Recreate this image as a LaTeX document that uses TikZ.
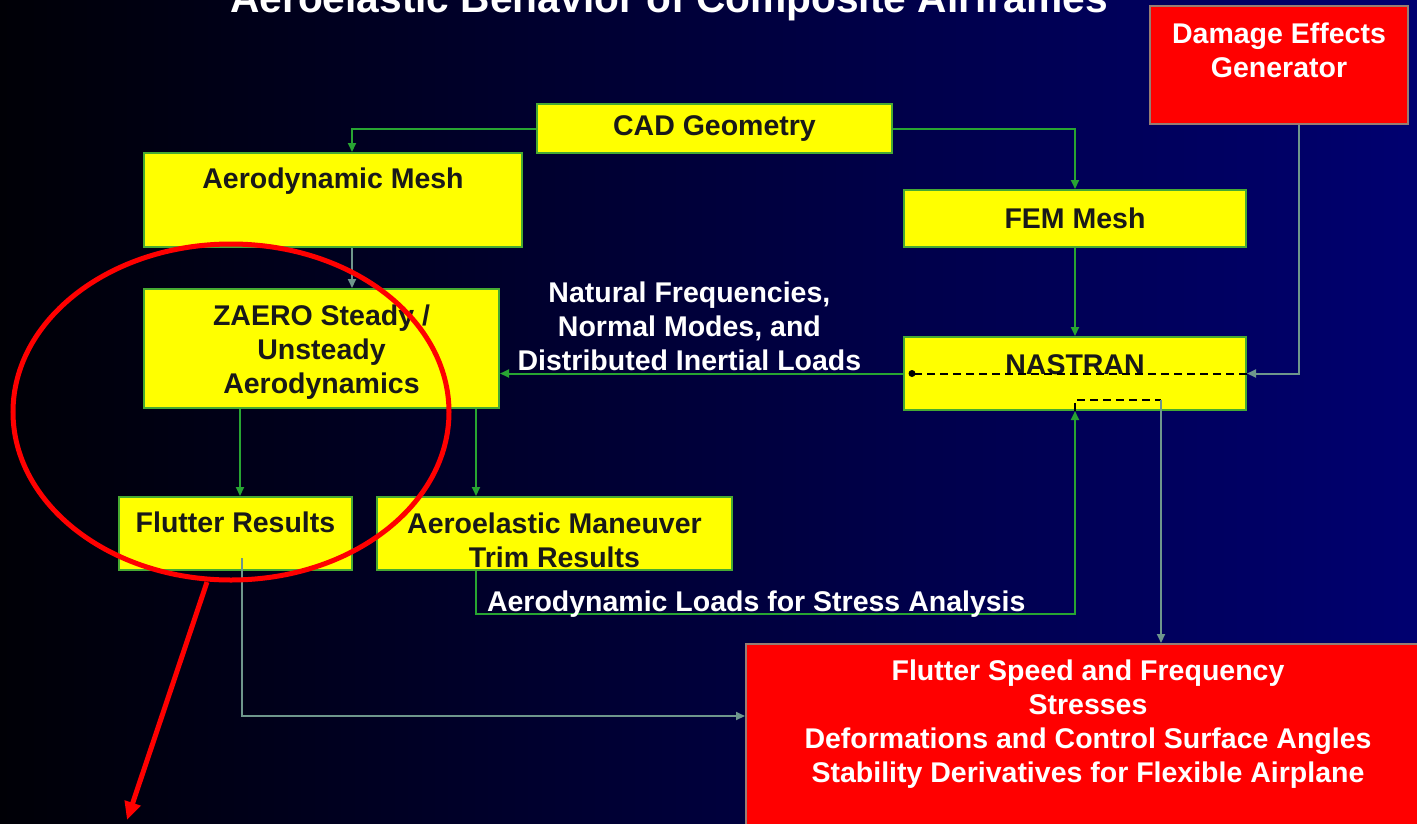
\documentclass[tikz,border=0pt]{standalone}
\usepackage{fontspec}
\setmainfont{Liberation Sans}
\usepackage{tikz}
\usetikzlibrary{positioning, arrows.meta}

\definecolor{boxyellow}{RGB}{255,255,0}
\definecolor{boxframe}{RGB}{70,170,50}
\definecolor{linkgreen}{RGB}{40,165,50}
\definecolor{linkgray}{RGB}{110,150,140}
\definecolor{boxred}{RGB}{255,0,0}
\definecolor{redframe}{RGB}{150,125,115}
\definecolor{bgleft}{RGB}{0,0,6}
\definecolor{bgright}{RGB}{0,0,112}

\begin{document}
\begin{tikzpicture}[x=1pt, y=-1pt,
		>={Triangle[length=9pt, width=8pt]},
		every node/.style={font=\fontsize{28.5}{34}\selectfont\bfseries},
		ybox/.style={
			rectangle,
			draw=boxframe, line width=2pt,
			fill=boxyellow,
			text=black!90,
			anchor=north west,
			inner sep=0pt,
			align=center},
		rbox/.style={
			rectangle,
			draw=redframe, line width=2pt,
			fill=boxred,
			text=white,
			anchor=north west,
			inner sep=0pt,
			align=center},
		arrow/.style={draw=linkgreen, line width=2pt, ->},
		grayarrow/.style={draw=linkgray, line width=2pt, ->},
		inner/.style={draw=black, line width=2pt, dash pattern=on 8pt off 5pt},
		lbl/.style={text=white, align=center, inner sep=2pt}]
		\useasboundingbox (0,0) rectangle (1417,823);
		\clip (0,0) rectangle (1417,823);
		\shade[left color=bgleft, right color=bgright] (0,0) rectangle (1417,823);
		\node[text=white, font=\fontsize{40.7}{48}\selectfont\bfseries, anchor=base] (title) at (669,12) {Aeroelastic Behavior of Composite Airframes};
		% boxes
		\node[ybox, minimum width=355pt, minimum height=49pt] (cad) at (536,103) {CAD Geometry};
		\node[ybox, minimum width=378pt, minimum height=94pt, text height=35pt, text depth=59pt] (aeromesh) at (143,152) {Aerodynamic Mesh};
		\node[ybox, minimum width=342pt, minimum height=57pt] (fem) at (903,189) {FEM Mesh};
		\node[ybox, minimum width=355pt, minimum height=119pt, text height=104pt, text depth=15pt] (zaero) at (143,288) {ZAERO Steady /\\Unsteady\\Aerodynamics};
		\node[ybox, minimum width=342pt, minimum height=73pt, text height=37pt, text depth=36pt] (nastran) at (903,336) {NASTRAN};
		\node[ybox, minimum width=233pt, minimum height=73pt, text height=35pt, text depth=38pt] (flutter) at (118,496) {Flutter Results};
		\node[ybox, minimum width=355pt, minimum height=73pt, text height=70pt, text depth=3pt] (trim) at (376,496) {Aeroelastic Maneuver\\Trim Results};
		\node[rbox, minimum width=258pt, minimum height=118pt, text height=71pt, text depth=47pt] (damage) at (1149,5) {Damage Effects\\Generator};
		\node[rbox, minimum width=684pt, minimum height=200pt, text height=138pt, text depth=62pt] (result) at (745,643) {Flutter Speed and Frequency\\Stresses\\Deformations and Control Surface Angles\\Stability Derivatives for Flexible Airplane};
		% connection points
		\coordinate (meshin) at ([xshift=209pt]aeromesh.north west);
		\coordinate (meshout) at ([xshift=209pt]aeromesh.south west);
		\coordinate (flutterin) at ([xshift=122pt]flutter.north west);
		\coordinate (flutterout) at ([xshift=124pt, yshift=13pt]flutter.south west);
		\coordinate (trimin) at ([xshift=100pt]trim.north west);
		\coordinate (trimout) at ([xshift=100pt]trim.south west);
		\coordinate (dot) at ([xshift=9pt]nastran.west);
		\coordinate (split) at ([xshift=86pt, yshift=11pt]nastran.south);
		% connectors
		\draw[arrow] (cad.west) -| (meshin);
		\draw[arrow] (cad.east) -| (fem.north);
		\draw[grayarrow] (meshout) -- (meshin |- zaero.north);
		\draw[arrow] (fem) -- (nastran);
		\draw[grayarrow] ([xshift=20pt]damage.south) |- (nastran.east);
		\draw[inner] (nastran.east) -- (dot);
		\fill (dot) circle (3.5pt);
		\draw[arrow] (nastran.west) -- (nastran.west -| zaero.east) node[lbl, above, pos=0.53] {Natural Frequencies,\\Normal Modes, and\\Distributed Inertial Loads};
		\draw[arrow] (flutterin |- zaero.south) -- (flutterin);
		\draw[arrow] (trimin |- zaero.south) -- (trimin);
		\draw[arrow] (trimout) -- ++(0,43) node[lbl, anchor=base west, xshift=8pt, yshift=3pt] {Aerodynamic Loads for Stress Analysis} -| (nastran.south);
		\draw[inner] (nastran.south) |- (split);
		\draw[grayarrow] (split) -- (split |- result.north);
		\draw[grayarrow] (flutterout) |- ([yshift=-73pt]result.north west);
		% red marking
		\coordinate (ringbottom) at (207,582);
		\coordinate (pointer) at (127,820);
		\draw[red, line width=5pt] (231,412) ellipse [x radius=218, y radius=168];
		\draw[red, line width=5pt, -{Triangle[length=18pt, width=16pt]}] (ringbottom) -- (pointer);
\end{tikzpicture}
\end{document}
